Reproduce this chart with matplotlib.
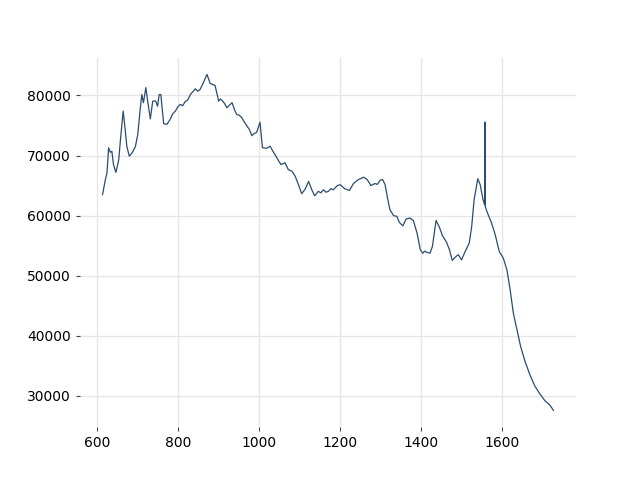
import matplotlib
matplotlib.use("Agg")
import matplotlib.pyplot as plt

# spectrum readings (wavenumber, intensity)
wavenumber = [
    613, 620, 624, 628, 632, 636, 640, 646, 653, 658, 664, 668, 673, 679, 686,
    694, 700, 706, 710, 714, 720, 724, 731, 737, 744, 749, 753, 757, 764, 772,
    780, 786, 793, 799, 805, 811, 817, 824, 830, 836, 842, 848, 854, 862, 871,
    879, 891, 900, 904, 908, 914, 920, 927, 933, 939, 945, 951, 957, 963, 970,
    976, 982, 988, 993, 995, 1002, 1008, 1018, 1027, 1034, 1044, 1049, 1054,
    1064, 1072, 1081, 1089, 1097, 1105, 1114, 1122, 1130, 1137, 1146, 1152,
    1159, 1165, 1171, 1177, 1183, 1193, 1200, 1212, 1223, 1233, 1245, 1252,
    1258, 1267, 1276, 1286, 1292, 1299, 1305, 1311, 1317, 1323, 1332, 1340,
    1346, 1355, 1363, 1373, 1381, 1390, 1398, 1404, 1409, 1414, 1422, 1428,
    1437, 1445, 1453, 1463, 1470, 1477, 1486, 1492, 1500, 1509, 1519, 1525,
    1531, 1540, 1546, 1553, 1557, 1557.5, 1558, 1558.5, 1564, 1574, 1583,
    1593, 1603, 1612, 1620, 1628, 1637, 1646, 1657, 1669, 1681, 1694, 1706,
    1718, 1727,
]
intensity = [
    63500, 66000, 67100, 71300, 70550, 70700, 68500, 67200, 69300, 73200,
    77400, 74900, 71550, 69900, 70450, 71450, 73500, 77700, 80150, 78800,
    81300, 79300, 76100, 79050, 79100, 78200, 80150, 80150, 75300, 75200,
    76000, 76900, 77400, 78100, 78500, 78300, 78950, 79300, 80150, 80600,
    81100, 80700, 81000, 82100, 83500, 82000, 81650, 79050, 79400, 79200,
    78700, 77950, 78400, 78800, 77600, 76800, 76700, 76300, 75600, 74900,
    74300, 73300, 73700, 73800, 74100, 75550, 71300, 71200, 71550, 70700,
    69600, 69000, 68500, 68800, 67650, 67400, 66550, 65150, 63650, 64450,
    65700, 64300, 63300, 64050, 63800, 64300, 63900, 64050, 64500, 64300,
    65000, 65150, 64450, 64200, 65350, 66000, 66200, 66400, 66000, 65000,
    65350, 65200, 65900, 66000, 65150, 62950, 61000, 60000, 59900, 58900,
    58300, 59450, 59600, 59150, 57100, 54350, 53750, 54100, 53900, 53750,
    54900, 59200, 58100, 56650, 55550, 54350, 52550, 53200, 53500, 52650,
    54050, 55450, 58200, 62650, 66150, 65150, 62650, 61800, 75550, 75550,
    61500, 60450, 58800, 56850, 54050, 52950, 51000, 47650, 43750, 41000,
    38200, 35700, 33500, 31650, 30300, 29200, 28500, 27600,
]

fig, ax = plt.subplots(figsize=(6.4, 4.8), dpi=100)
ax.plot(wavenumber, intensity, color="#2b4c70", linewidth=0.9)

ax.grid(True, color="#e6e6e6", linewidth=1.0)
ax.set_axisbelow(True)
for s in ax.spines.values():
    s.set_visible(False)
ax.tick_params(length=3, color="#444444")

fig.savefig("out.png", dpi=100)
